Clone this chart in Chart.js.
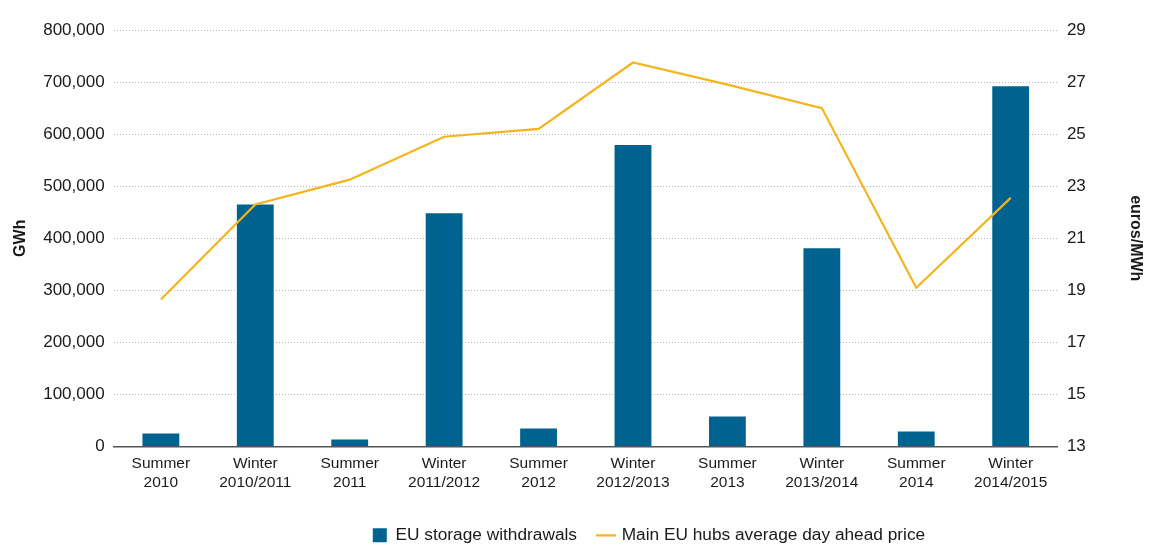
<!DOCTYPE html>
<html>
<head>
<meta charset="utf-8">
<script src="https://cdn.jsdelivr.net/npm/chart.js@4"></script>
<style>
  html, body { margin: 0; padding: 0; background: #fff; }
  #wrap { width: 1152px; height: 546px; }
</style>
</head>
<body>
<div id="wrap"><canvas id="chart"></canvas></div>
<script>
// seasons on the x axis (two-line labels)
var seasons = [
  ['Summer', '2010'], ['Winter', '2010/2011'],
  ['Summer', '2011'], ['Winter', '2011/2012'],
  ['Summer', '2012'], ['Winter', '2012/2013'],
  ['Summer', '2013'], ['Winter', '2013/2014'],
  ['Summer', '2014'], ['Winter', '2014/2015']
];

// EU storage withdrawals, GWh (left axis)
var withdrawals = [25000, 465000, 13500, 448000, 34500, 579000, 57500, 381000, 29000, 692000];

// Main EU hubs average day ahead price, euros/MWh (right axis)
var price = [18.65, 22.3, 23.25, 24.9, 25.2, 27.75, 26.9, 26.0, 19.1, 22.55];

var FONT = "'Liberation Sans', Arial, sans-serif";
var BAR_COLOR = '#00628f';
var LINE_COLOR = '#f5b41c';

// nudge the legend right and down, like the original
var legendShift = {
  id: 'legendShift',
  afterLayout: function(chart) {
    var lg = chart.legend;
    if (lg) {
      lg.left += 71; lg.right += 71;
      lg.top += 8; lg.bottom += 8;
    }
  }
};

var ctx = document.getElementById('chart').getContext('2d');
var chart = new Chart(ctx, {
  type: 'bar',
  data: {
    labels: seasons,
    datasets: [
      {
        type: 'line',
        label: 'Main EU hubs average day ahead price',
        data: price,
        yAxisID: 'y1',
        borderColor: LINE_COLOR,
        backgroundColor: LINE_COLOR,
        borderWidth: 2.2,
        pointRadius: 0,
        pointStyle: 'line',
        tension: 0,
        order: 0
      },
      {
        label: 'EU storage withdrawals',
        data: withdrawals,
        yAxisID: 'y',
        backgroundColor: BAR_COLOR,
        borderWidth: 0,
        pointStyle: 'rect',
        barPercentage: 0.39,
        categoryPercentage: 1.0,
        order: 1
      }
    ]
  },
  options: {
    responsive: true,
    maintainAspectRatio: false,
    animation: false,
    layout: { padding: { left: 11, right: 7, top: 30, bottom: 0 } },
    plugins: {
      tooltip: { enabled: false },
      legend: {
        position: 'bottom',
        reverse: true,
        labels: {
          usePointStyle: true,
          boxWidth: 14,
          boxHeight: 14,
          padding: 22,
          color: '#1a1a1a',
          font: { family: FONT, size: 17.3 }
        }
      }
    },
    scales: {
      x: {
        grid: { display: false, drawTicks: false },
        border: { display: true, color: '#555', width: 1.5 },
        ticks: {
          color: '#1a1a1a',
          padding: 8,
          maxRotation: 0,
          font: { family: FONT, size: 15.5, lineHeight: 1.2 }
        },
        afterFit: function(scale) { scale.height -= 3; }
      },
      y: {
        position: 'left',
        min: 0,
        max: 800000,
        grid: { color: '#b5b5b5', drawTicks: false, lineWidth: 1 },
        border: { display: false, dash: [1, 2] },
        ticks: {
          stepSize: 100000,
          padding: 9,
          color: '#1a1a1a',
          font: { family: FONT, size: 17 },
          callback: function(v) { return v.toLocaleString('en-US'); }
        },
        title: {
          display: true,
          text: 'GWh',
          color: '#1a1a1a',
          padding: { top: 0, bottom: 4 },
          font: { family: FONT, size: 16, weight: 'bold' }
        }
      },
      y1: {
        position: 'right',
        min: 13,
        max: 29,
        grid: { display: false, drawTicks: false },
        border: { display: false },
        ticks: {
          stepSize: 2,
          padding: 9,
          color: '#1a1a1a',
          font: { family: FONT, size: 17 }
        },
        title: {
          display: true,
          text: 'euros/MWh',
          color: '#1a1a1a',
          padding: { top: 0, bottom: 31 },
          font: { family: FONT, size: 16, weight: 'bold' }
        }
      }
    }
  },
  plugins: [legendShift]
});
</script>
</body>
</html>
